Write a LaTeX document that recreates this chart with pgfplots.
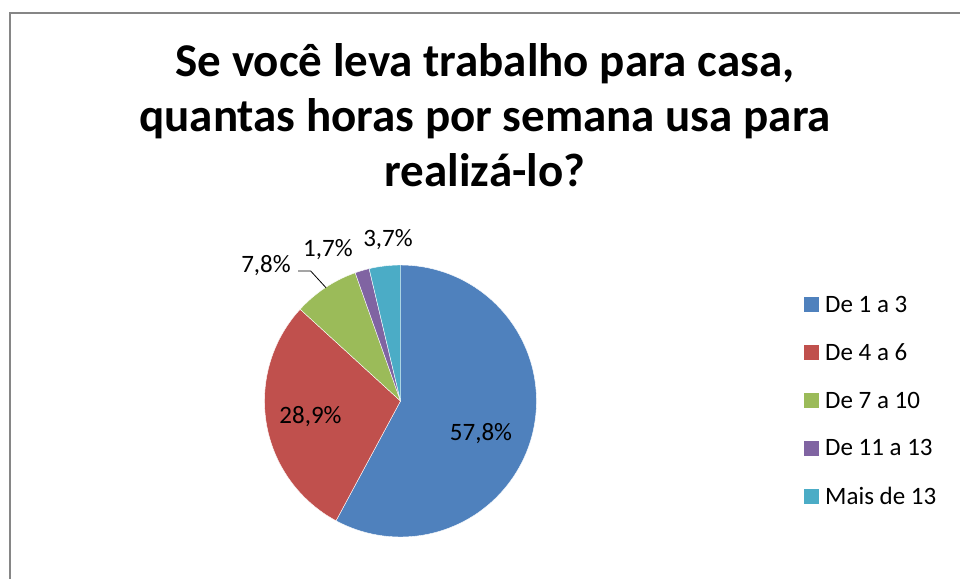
\documentclass[border=0pt]{standalone}
\usepackage{fontspec}
\setmainfont{Carlito}
\usepackage{pgfplots}
\pgfplotsset{compat=1.18}
\usepgfplotslibrary{polar}
\definecolor{cA}{HTML}{4F81BD}
\definecolor{cB}{HTML}{C0504D}
\definecolor{cC}{HTML}{9BBB59}
\definecolor{cD}{HTML}{8064A2}
\definecolor{cE}{HTML}{4BACC6}
\definecolor{frame}{HTML}{868686}
\begin{document}
\begin{tikzpicture}
% data (percent)
\def\vA{57.8}\def\vB{28.9}\def\vC{7.8}\def\vD{1.7}\def\vE{3.7}
\pgfmathsetmacro\tot{\vA+\vB+\vC+\vD+\vE}
\pgfmathsetmacro\kk{360/\tot}
\pgfmathsetmacro\aA{90}
\pgfmathsetmacro\aB{\aA-\vA*\kk}
\pgfmathsetmacro\aC{\aB-\vB*\kk}
\pgfmathsetmacro\aD{\aC-\vC*\kk}
\pgfmathsetmacro\aE{\aD-\vD*\kk}
\pgfmathsetmacro\aF{\aE-\vE*\kk}
\path[use as bounding box] (0pt,0pt) rectangle (960pt,-578pt);
\draw[line width=1.5pt, color=frame] (10pt,-580pt) -- (10pt,-13pt) -- (962pt,-13pt);
\begin{scope}[every node/.style={font=\fontsize{47}{56}\selectfont\bfseries, anchor=base}]
\node at (485pt,-77pt) {Se você leva trabalho para casa,};
\node at (485pt,-131pt) {quantas horas por semana usa para};
\node at (485pt,-186pt) {realizá-lo?};
\end{scope}
\begin{polaraxis}[
  at={(400.5pt,-401pt)}, anchor=center,
  scale only axis, width=272pt, height=272pt,
  ymin=0, ymax=1, hide axis, clip=false,
  legend style={at={(1.9835,0.5)}, anchor=west, draw=none, fill=none,
    font=\fontsize{25}{30}\selectfont, row sep=26pt, column sep=4pt, inner sep=0pt},
  legend cell align=left,
  legend image code/.code={\fill[#1,draw=none] (0pt,-7.5pt) rectangle (15pt,7.5pt);},
]
\addplot[fill=cA, draw=white, line width=0.4pt, domain=\aB:\aA, samples=90] {1} -- (axis cs:0,0) -- cycle;
\addplot[fill=cB, draw=white, line width=0.4pt, domain=\aC:\aB, samples=50] {1} -- (axis cs:0,0) -- cycle;
\addplot[fill=cC, draw=white, line width=0.4pt, domain=\aD:\aC, samples=20] {1} -- (axis cs:0,0) -- cycle;
\addplot[fill=cD, draw=white, line width=0.4pt, domain=\aE:\aD, samples=8] {1} -- (axis cs:0,0) -- cycle;
\addplot[fill=cE, draw=white, line width=0.4pt, domain=\aF:\aE, samples=12] {1} -- (axis cs:0,0) -- cycle;
\legend{De 1 a 3, De 4 a 6, De 7 a 10, De 11 a 13, Mais de 13}
\addplot[black, line width=0.8pt, forget plot] coordinates {(128.25,1.217) (124.64,1.162) (123.33,0.997)};
\begin{scope}[every node/.style={font=\fontsize{25}{30}\selectfont, anchor=base, inner sep=0pt}]
\node at (axis cs:-25.85,0.6577) {57,8\%};
\node at (axis cs:194.33,0.683) {28,9\%};
\node at (axis cs:136.2,1.370) {7,8\%};
\node at (axis cs:116.7,1.187) {1,7\%};
\node at (axis cs:94.6,1.143) {3,7\%};
\end{scope}
\end{polaraxis}
\end{tikzpicture}
\end{document}
